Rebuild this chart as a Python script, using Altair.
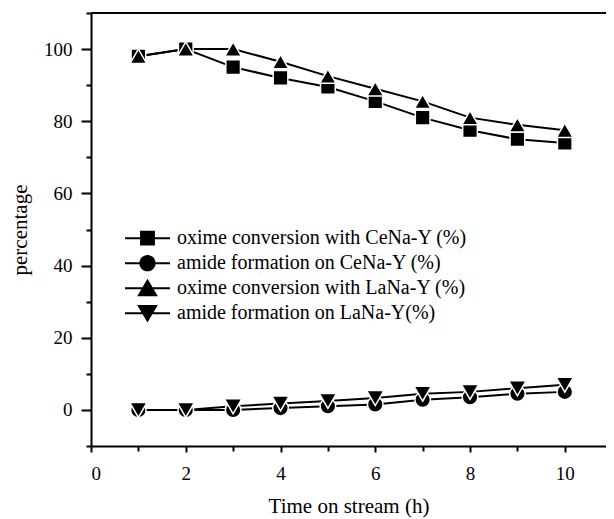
import altair as alt
import pandas as pd

times = [1, 2, 3, 4, 5, 6, 7, 8, 9, 10]
oxime_ce = [98, 100, 95, 92, 89.5, 85.5, 81, 77.5, 75, 74]
amide_ce = [0, 0, 0, 0.5, 1, 1.5, 2.8, 3.5, 4.5, 5]
oxime_la = [98, 100, 100, 96.5, 92.5, 89, 85.5, 81, 79, 77.5]
amide_la = [0, 0, 1, 1.8, 2.5, 3.3, 4.5, 5, 6, 7]

series_names = [
    "oxime conversion with CeNa-Y (%)",
    "amide formation on CeNa-Y (%)",
    "oxime conversion with LaNa-Y (%)",
    "amide formation on LaNa-Y(%)",
]
series_values = [oxime_ce, amide_ce, oxime_la, amide_la]

rows = []
for name, vals in zip(series_names, series_values):
    for t, v in zip(times, vals):
        rows.append({"time": t, "value": v, "series": name, "legend": name})
df = pd.DataFrame(rows)

W, H = 515, 433
FONT = "Liberation Serif"

x_enc = alt.X("time:Q", scale=alt.Scale(domain=[0, 10.87], nice=False),
              axis=alt.Axis(values=list(range(0, 11)),
                            labelExpr="datum.value % 2 == 0 ? datum.label : ''",
                            title="Time on stream (h)",
                            tickSize={"condition": {"test": "datum.value % 2 == 0", "value": 6}, "value": 5},
                            labelPadding=12, titlePadding=12, grid=False))
y_enc = alt.Y("value:Q", scale=alt.Scale(domain=[-10, 110], nice=False),
              axis=alt.Axis(values=list(range(-10, 111, 10)),
                            labelExpr="(datum.value % 20 == 0 && datum.value >= 0) ? datum.label : ''",
                            title="percentage",
                            tickSize={"condition": {"test": "datum.value % 20 == 0", "value": 10}, "value": 5},
                            labelPadding=9, titlePadding=13, grid=False))

base = alt.Chart(df)

lines = base.mark_line(color="black", strokeWidth=2).encode(
    x=x_enc, y=y_enc, detail="series:N", order="time:Q"
)

shape_range = ["square", "circle", "triangle-up", "triangle-down"]
points = base.mark_point(filled=True, fill="black", stroke="white", strokeWidth=1.5, opacity=1).encode(
    x=x_enc, y=y_enc,
    shape=alt.Shape("series:N", scale=alt.Scale(domain=series_names, range=shape_range), legend=None),
    size=alt.Size("series:N", scale=alt.Scale(domain=series_names, range=[215, 300, 370, 370]), legend=None),
)

line_path = "M-1,-0.045L1,-0.045L1,0.045L-1,0.045Z"
legend_paths = [
    line_path + "M-0.33,-0.33L0.33,-0.33L0.33,0.33L-0.33,0.33Z",
    line_path + "M0.36,0A0.36,0.36 0 1,1 -0.36,0A0.36,0.36 0 1,1 0.36,0Z",
    line_path + "M0,-0.42L0.46,0.36L-0.46,0.36Z",
    line_path + "M0,0.42L-0.46,-0.36L0.46,-0.36Z",
]

legend_layer = base.mark_point(filled=True, color="black", fill="black", opacity=0).encode(
    x=x_enc, y=y_enc,
    shape=alt.Shape("legend:N", scale=alt.Scale(domain=series_names, range=legend_paths),
                    legend=alt.Legend(title=None, orient="none", legendX=34, legendY=213,
                                      symbolSize=2025, symbolOpacity=1, symbolFillColor="black",
                                      symbolStrokeColor="black",
                                      symbolStrokeWidth=0, clipHeight=24.3, rowPadding=0,
                                      labelFont=FONT, labelFontSize=20, labelColor="black",
                                      labelOffset=7, labelLimit=0, padding=0)),
)

frame_top = alt.Chart(pd.DataFrame({"k": [0]})).mark_rule(color="black", strokeWidth=2).encode(
    x=alt.value(0), x2=alt.value(W), y=alt.value(0)
)

chart = alt.layer(lines, points, legend_layer, frame_top).resolve_scale(
    shape="independent", size="independent"
).properties(
    width=W, height=H,
    autosize=alt.AutoSizeParams(type="none"),
    padding={"left": 83, "top": 5, "right": 0, "bottom": 72},
).configure_view(stroke=None).configure_axis(
    domainColor="black", domainWidth=2, tickColor="black", tickWidth=2,
    labelFont=FONT, labelFontSize=19, labelColor="black",
    titleFont=FONT, titleFontSize=21, titleColor="black", titleFontWeight="normal",
)

chart.save("out.html", embed_options={"renderer": "svg", "actions": False})
